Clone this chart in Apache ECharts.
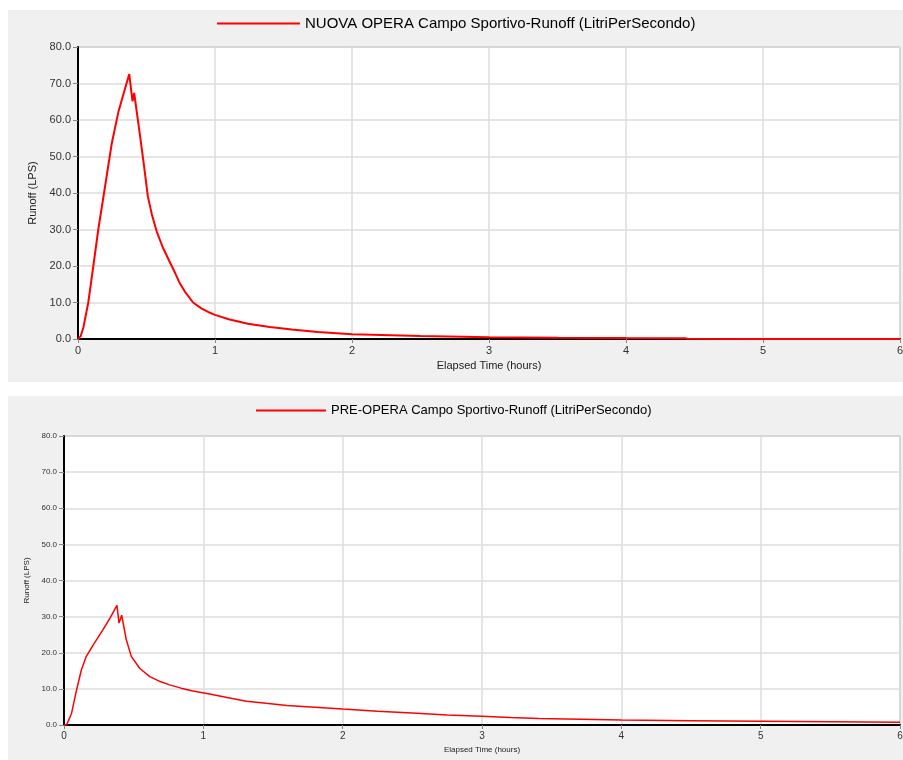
<!DOCTYPE html>
<html>
<head>
<meta charset="utf-8">
<script src="https://cdn.jsdelivr.net/npm/echarts@6/dist/echarts.min.js"></script>
<style>
  html, body { margin: 0; padding: 0; background: #fff; overflow: hidden; }
  .panel { position: absolute; left: 8px; width: 895px; background: #f0f0f0; }
  #top { top: 10px; height: 372px; }
  #bottom { top: 396px; height: 364px; }
</style>
</head>
<body>
<div id="top" class="panel"></div>
<div id="bottom" class="panel"></div>
<script>
// NUOVA OPERA (post-project) hydrograph
const topTimes = [0, 0.02, 0.04, 0.075, 0.112, 0.148, 0.19, 0.246, 0.294, 0.374, 0.398, 0.41, 0.45, 0.48, 0.51, 0.54, 0.574, 0.62, 0.684, 0.71, 0.74, 0.78, 0.84, 0.9, 0.95, 1.0, 1.1, 1.24, 1.4, 1.56, 1.75, 2.0, 2.5, 3.0, 3.5, 4.0, 4.43, 4.45, 5.0, 6.0]
const topRunoff = [0, 0.8, 3.3, 10, 20, 30, 40, 53.5, 62.1, 72.6, 65.1, 67.4, 56.5, 48, 39, 34, 29.5, 25, 20, 18, 15.5, 13, 10, 8.4, 7.4, 6.6, 5.4, 4.2, 3.3, 2.6, 1.9, 1.3, 0.8, 0.5, 0.35, 0.25, 0.2, 0.05, 0.03, 0.02]

// PRE-OPERA (pre-project) hydrograph
const bottomTimes = [0, 0.018, 0.054, 0.09, 0.125, 0.16, 0.21, 0.28, 0.33, 0.38, 0.395, 0.414, 0.447, 0.483, 0.543, 0.615, 0.68, 0.758, 0.84, 0.925, 1.045, 1.17, 1.31, 1.45, 1.6, 1.8, 2.0, 2.25, 2.5, 2.75, 3.0, 3.2, 3.41, 4.0, 4.5, 5.0, 5.5, 6.0]
const bottomRunoff = [0, 0, 3.2, 9.7, 15.3, 19, 22.2, 26.4, 29.6, 33.1, 28.2, 30.4, 23.6, 19, 15.7, 13.4, 12.2, 11.1, 10.2, 9.4, 8.6, 7.6, 6.6, 6.0, 5.4, 4.9, 4.4, 3.8, 3.3, 2.8, 2.4, 2.1, 1.8, 1.4, 1.2, 1.05, 0.9, 0.75]

const topName = 'NUOVA OPERA Campo Sportivo-Runoff (LitriPerSecondo)'
const bottomName = 'PRE-OPERA Campo Sportivo-Runoff (LitriPerSecondo)'

const FONT = '"Liberation Sans", Arial, sans-serif'

function buildOption(cfg) {
  return {
    animation: false,
    textStyle: { fontFamily: FONT },
    legend: {
      data: [cfg.name],
      left: cfg.legendLeft,
      top: cfg.legendTop,
      icon: 'rect',
      itemWidth: cfg.legendWidth,
      itemHeight: 2,
      textStyle: { fontSize: cfg.legendFont, color: '#000', fontFamily: FONT }
    },
    grid: {
      left: cfg.grid[0],
      top: cfg.grid[1],
      right: cfg.grid[2],
      bottom: cfg.grid[3],
      containLabel: false,
      outerBoundsMode: 'none',
      show: true,
      backgroundColor: '#fff',
      borderColor: '#9a9a9a',
      borderWidth: 1
    },
    xAxis: {
      type: 'value',
      min: 0,
      max: 6,
      interval: 1,
      name: 'Elapsed Time (hours)',
      nameLocation: 'middle',
      nameGap: cfg.xNameGap,
      nameTextStyle: { fontSize: cfg.nameFont, color: '#222', fontFamily: FONT },
      axisLine: { show: true, lineStyle: { color: '#000', width: 2 } },
      axisTick: { show: true, length: 4, lineStyle: { color: '#888' } },
      axisLabel: { fontSize: cfg.tickFont, color: '#333', margin: 6, fontFamily: FONT },
      splitLine: { show: true, lineStyle: { color: '#dcdcdc', width: 1.5 } }
    },
    yAxis: {
      type: 'value',
      min: 0,
      max: 80,
      interval: 10,
      name: 'Runoff (LPS)',
      nameLocation: 'middle',
      nameGap: cfg.yNameGap,
      nameTextStyle: { fontSize: cfg.nameFont, color: '#222', fontFamily: FONT },
      axisLine: { show: true, lineStyle: { color: '#000', width: 2 } },
      axisTick: { show: true, length: 5, lineStyle: { color: '#888' } },
      axisLabel: {
        fontSize: cfg.yTickFont,
        color: '#333',
        margin: 7,
        fontFamily: FONT,
        formatter: v => v.toFixed(1)
      },
      splitLine: { show: true, lineStyle: { color: '#dcdcdc', width: 1.5 } }
    },
    series: [
      {
        name: cfg.name,
        type: 'line',
        data: cfg.times.map((t, i) => [t, cfg.values[i]]),
        showSymbol: false,
        symbol: 'none',
        lineStyle: { color: '#ff0000', width: cfg.lineWidth },
        itemStyle: { color: '#ff0000' }
      }
    ]
  }
}

const topChart = echarts.init(document.getElementById('top'))
topChart.setOption(buildOption({
  name: topName,
  times: topTimes,
  values: topRunoff,
  legendLeft: 204,
  legendTop: 1,
  legendWidth: 83,
  legendFont: 15,
  grid: [70, 37, 3, 43],
  xNameGap: 21,
  yNameGap: 38,
  nameFont: 11,
  tickFont: 11,
  yTickFont: 11,
  lineWidth: 2
}))

const bottomChart = echarts.init(document.getElementById('bottom'))
bottomChart.setOption(buildOption({
  name: bottomName,
  times: bottomTimes,
  values: bottomRunoff,
  legendLeft: 243,
  legendTop: 3,
  legendWidth: 70,
  legendFont: 13,
  grid: [56, 40, 3, 35],
  xNameGap: 18,
  yNameGap: 30,
  nameFont: 8,
  tickFont: 10,
  yTickFont: 8,
  lineWidth: 1.5
}))

window.addEventListener('resize', () => {
  topChart.resize()
  bottomChart.resize()
})
</script>
</body>
</html>
